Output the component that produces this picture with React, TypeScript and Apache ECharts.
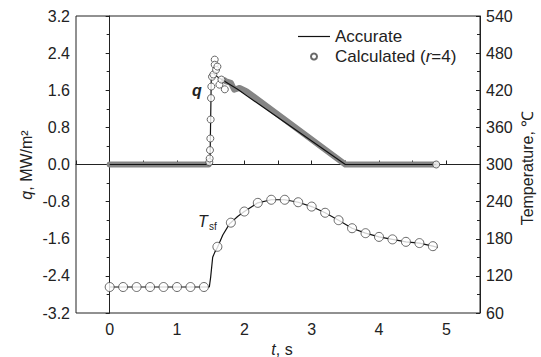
import React, { useEffect, useRef } from 'react';
import * as echarts from 'echarts';

// Heat flux q (MW/m2), accurate solution
const qAccT = [0, 1.49, 1.51, 1.7, 1.9, 3.5, 4.85];
const qAccV = [0, 0, 1.97, 1.8, 1.62, 0, 0];

// Calculated q: dense markers drawn as a band (flat part and decline)
const qFlatT = [0, 1.47];
const qFlatV = [0, 0];
const qDeclT = [1.7, 1.73, 1.8, 1.85, 1.93, 2.03, 3.5, 4.85];
const qDeclV = [1.82, 1.79, 1.76, 1.61, 1.65, 1.58, 0, 0];

// Calculated q: individually visible markers (rise & peak & end)
const qCalcT = [1.48, 1.485, 1.49, 1.495, 1.5, 1.505, 1.51, 1.52, 1.54, 1.56, 1.56, 1.58, 1.6, 1.63, 1.66, 1.71, 4.85];
const qCalcV = [0.05, 0.13, 0.31, 0.56, 0.97, 1.43, 1.68, 1.89, 1.94, 2.26, 2.15, 2.04, 2.11, 1.72, 1.83, 1.62, 0];

// Surface temperature Tsf (°C), accurate
const tAccT = [0, 1.48, 1.5, 1.53, 1.56, 1.6, 1.68, 1.78, 1.9, 2.0, 2.2, 2.4, 2.6, 2.8, 3.0, 3.2, 3.4, 3.6, 3.8, 4.0, 4.2, 4.4, 4.6, 4.8, 4.87];
const tAccV = [102, 102, 118, 150, 158, 166, 186, 204, 216, 224, 238, 243, 243, 239, 232, 222, 210, 197, 189, 183, 179, 175, 173, 168, 166];

// Surface temperature, calculated
const tCalcT = [0, 0.2, 0.4, 0.6, 0.8, 1.0, 1.2, 1.4, 1.6, 1.8, 2.0, 2.2, 2.4, 2.6, 2.8, 3.0, 3.2, 3.4, 3.6, 3.8, 4.0, 4.2, 4.4, 4.6, 4.8];
const tCalcV = [102, 102, 102, 102, 102, 102, 102, 102, 167, 206, 224, 238, 243, 243, 239, 232, 222, 210, 197, 189, 183, 179, 175, 173, 168];

const FONT = 'Liberation Sans, Arial, sans-serif';
const TXT = '#222';

const pairs = (t: number[], v: number[]) => t.map((x, i) => [x, v[i]]);

export default function App() {
  const ref = useRef<HTMLDivElement>(null);
  useEffect(() => {
    const chart = echarts.init(ref.current!, null, { renderer: 'svg' });
    const bandStyle = { color: '#858585', width: 6, cap: 'round', join: 'round' };
    chart.setOption({
      animation: false,
      backgroundColor: '#fff',
      textStyle: { fontFamily: FONT },
      grid: { left: 76, right: 61, top: 16, bottom: 44, show: true, borderColor: '#222', borderWidth: 1, backgroundColor: 'transparent' },
      legend: {
        left: 298,
        top: 28,
        padding: 0,
        orient: 'vertical',
        itemWidth: 32,
        itemHeight: 6,
        itemGap: 3,
        data: [
          { name: 'Accurate', icon: 'path://M0,0H32V1.2H0Z', itemStyle: { color: '#111' } },
          { name: 'Calculated', icon: 'circle' },
        ],
        formatter: (name: string) => (name === 'Calculated' ? '{a|Calculated (}{i|r}{a|=4)}' : '{a|Accurate}'),
        textStyle: {
          color: TXT,
          fontSize: 17,
          fontFamily: FONT,
          rich: {
            a: { fontSize: 17, fontFamily: FONT, color: TXT },
            i: { fontSize: 17, fontFamily: FONT, color: TXT, fontStyle: 'italic' },
          },
        },
      },
      xAxis: {
        type: 'value',
        min: -0.5,
        max: 5.5,
        interval: 0.5,
        splitLine: { show: false },
        axisLine: { lineStyle: { color: '#222' } },
        axisTick: { inside: true, length: 4, lineStyle: { color: '#222' } },
        axisLabel: {
          color: TXT,
          fontSize: 16,
          margin: 8,
          formatter: (v: number) => (Math.abs(v - Math.round(v)) < 1e-6 ? String(Math.round(v)) : ''),
        },
      },
      yAxis: [
        {
          type: 'value',
          min: -3.2,
          max: 3.2,
          interval: 0.8,
          splitLine: { show: false },
          axisLine: { show: true, lineStyle: { color: '#222' } },
          axisTick: { inside: false, length: 4, lineStyle: { color: '#222' } },
          minorTick: { show: true, splitNumber: 2, length: 3, lineStyle: { color: '#222' } },
          axisLabel: { color: TXT, fontSize: 16, margin: 6, formatter: (v: number) => v.toFixed(1) },
        },
        {
          type: 'value',
          position: 'right',
          min: 60,
          max: 540,
          interval: 60,
          splitLine: { show: false },
          axisLine: { show: true, lineStyle: { color: '#222' } },
          axisTick: { inside: true, length: 4, lineStyle: { color: '#222' } },
          minorTick: { show: true, splitNumber: 2, length: 3, lineStyle: { color: '#222' } },
          axisLabel: { color: TXT, fontSize: 16, margin: 6 },
        },
      ],
      series: [
        {
          name: 'qband1',
          type: 'line',
          yAxisIndex: 0,
          symbol: 'none',
          data: pairs(qFlatT, qFlatV),
          lineStyle: bandStyle,
          z: 1,
        },
        {
          name: 'qband2',
          type: 'line',
          yAxisIndex: 0,
          symbol: 'none',
          data: pairs(qDeclT, qDeclV),
          lineStyle: bandStyle,
          z: 1,
        },
        {
          name: 'Accurate',
          type: 'line',
          yAxisIndex: 0,
          symbol: 'none',
          data: pairs(qAccT, qAccV),
          lineStyle: { color: '#111', width: 1.2 },
          itemStyle: { color: '#111' },
          z: 3,
        },
        {
          name: 'Calculated',
          type: 'scatter',
          yAxisIndex: 0,
          symbol: 'circle',
          symbolSize: 7,
          data: pairs(qCalcT, qCalcV),
          itemStyle: { color: '#fff', borderColor: '#444', borderWidth: 1 },
          z: 4,
        },
        {
          name: 'Accurate',
          type: 'line',
          yAxisIndex: 1,
          symbol: 'none',
          data: pairs(tAccT, tAccV),
          lineStyle: { color: '#111', width: 1.2 },
          itemStyle: { color: '#111' },
          z: 3,
        },
        {
          name: 'Calculated',
          type: 'scatter',
          yAxisIndex: 1,
          symbol: 'circle',
          symbolSize: 9,
          data: pairs(tCalcT, tCalcV),
          itemStyle: { color: '#fff', borderColor: '#444', borderWidth: 1 },
          z: 4,
        },
      ],
      graphic: [
        {
          type: 'text',
          x: 26,
          y: 165,
          rotation: Math.PI / 2,
          style: {
            text: '{i|q}{n|, MW/m²}',
            align: 'center',
            verticalAlign: 'middle',
            rich: {
              i: { fontSize: 16, fontFamily: FONT, fill: TXT, fontStyle: 'italic' },
              n: { fontSize: 16, fontFamily: FONT, fill: TXT },
            },
          },
        },
        {
          type: 'text',
          x: 527,
          y: 168,
          rotation: Math.PI / 2,
          style: { text: 'Temperature, ℃', align: 'center', verticalAlign: 'middle', fontSize: 16, fontFamily: FONT, fill: TXT },
        },
        {
          type: 'text',
          x: 282,
          y: 349,
          style: {
            text: '{i|t}{n|, s}',
            align: 'center',
            verticalAlign: 'middle',
            rich: {
              i: { fontSize: 16, fontFamily: FONT, fill: TXT, fontStyle: 'italic' },
              n: { fontSize: 16, fontFamily: FONT, fill: TXT },
            },
          },
        },
        {
          type: 'text',
          x: 197,
          y: 90,
          style: { text: 'q', align: 'center', verticalAlign: 'middle', fontSize: 16, fontStyle: 'italic', fontWeight: 'bold', fontFamily: FONT, fill: TXT },
        },
        {
          type: 'text',
          x: 203,
          y: 221,
          style: { text: 'T', align: 'center', verticalAlign: 'middle', fontSize: 16, fontStyle: 'italic', fontFamily: FONT, fill: TXT },
        },
        {
          type: 'text',
          x: 213,
          y: 226,
          style: { text: 'sf', align: 'center', verticalAlign: 'middle', fontSize: 10, fontFamily: FONT, fill: TXT },
        },
      ],
    });
    return () => chart.dispose();
  }, []);
  return <div ref={ref} style={{ width: 541, height: 357, position: 'absolute', left: 0, top: 0 }} />;
}
